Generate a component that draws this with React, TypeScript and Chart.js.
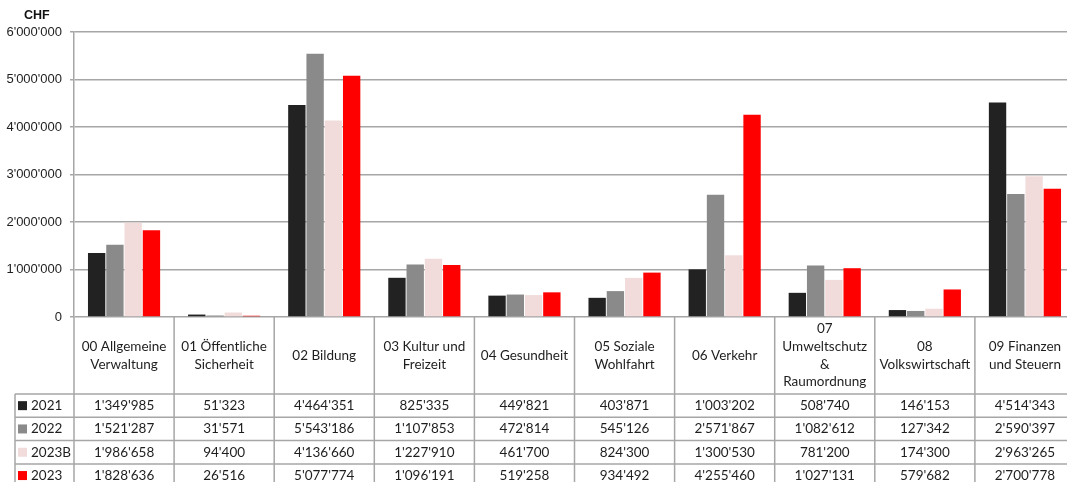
import React, { useEffect, useRef } from "react";
import { Chart, registerables } from "chart.js";

Chart.register(...registerables);

const categories: string[][] = [
  ["00 Allgemeine", "Verwaltung"],
  ["01 Öffentliche", "Sicherheit"],
  ["02 Bildung"],
  ["03 Kultur und", "Freizeit"],
  ["04 Gesundheit"],
  ["05 Soziale", "Wohlfahrt"],
  ["06 Verkehr"],
  ["07", "Umweltschutz", "&", "Raumordnung"],
  ["08", "Volkswirtschaft"],
  ["09 Finanzen", "und Steuern"],
];

const seriesNames = ["2021", "2022", "2023B", "2023"];
const v2021 = [1349985, 51323, 4464351, 825335, 449821, 403871, 1003202, 508740, 146153, 4514343];
const v2022 = [1521287, 31571, 5543186, 1107853, 472814, 545126, 2571867, 1082612, 127342, 2590397];
const v2023B = [1986658, 94400, 4136660, 1227910, 461700, 824300, 1300530, 781200, 174300, 2963265];
const v2023 = [1828636, 26516, 5077774, 1096191, 519258, 934492, 4255460, 1027131, 579682, 2700778];
const seriesColors = ["#222222", "#8a8a8a", "#f2dcdb", "#ff0000"];
const yTicks = [0, 1000000, 2000000, 3000000, 4000000, 5000000, 6000000];

const fmt = (v: number) => String(Math.round(v)).replace(/\B(?=(\d{3})+(?!\d))/g, "'");

const LINE = "#a6a6a6";
const TEXT = "#1e1e1e";
const TFONT = "13.5px Lato";

const tablePlugin = {
  id: "dataTable",
  afterDraw(chart: any) {
    const ctx: CanvasRenderingContext2D = chart.ctx;
    const xs = chart.scales.x;
    const area = chart.chartArea;
    const n = categories.length;
    const step = xs.getPixelForValue(1) - xs.getPixelForValue(0);
    const left = xs.getPixelForValue(0) - step / 2;
    const bounds: number[] = [];
    for (let i = 0; i <= n; i++) bounds.push(left + i * step);
    const right = bounds[n];
    const bottom = chart.height;
    const headerBottom = area.bottom + 77;
    const rowH = 23.3;
    const legendLeft = 15;
    const datasets = chart.data.datasets;

    ctx.save();
    // CHF label
    ctx.fillStyle = "#111";
    ctx.font = "bold 12.5px 'Liberation Sans'";
    ctx.textAlign = "left";
    ctx.textBaseline = "middle";
    ctx.fillText("CHF", 24, 16);

    ctx.strokeStyle = LINE;
    ctx.lineWidth = 1.5;
    // vertical lines
    for (let i = 0; i <= n; i++) {
      ctx.beginPath();
      ctx.moveTo(bounds[i], area.bottom);
      ctx.lineTo(bounds[i], bottom);
      ctx.stroke();
    }
    ctx.beginPath();
    ctx.moveTo(legendLeft, headerBottom);
    ctx.lineTo(legendLeft, bottom);
    ctx.stroke();
    // horizontal lines
    for (let r = 0; r <= datasets.length; r++) {
      const y = headerBottom + r * rowH;
      ctx.beginPath();
      ctx.moveTo(legendLeft, y);
      ctx.lineTo(right, y);
      ctx.stroke();
    }

    // header labels
    ctx.fillStyle = TEXT;
    ctx.font = TFONT;
    ctx.textAlign = "center";
    ctx.textBaseline = "middle";
    const lh = 17.6;
    const hc = (area.bottom + headerBottom) / 2;
    categories.forEach((lines, i) => {
      const cx = (bounds[i] + bounds[i + 1]) / 2;
      const y0 = hc - ((lines.length - 1) * lh) / 2;
      lines.forEach((t, k) => ctx.fillText(t, cx, y0 + k * lh));
    });

    // rows
    datasets.forEach((ds: any, r: number) => {
      const cy = headerBottom + r * rowH + rowH / 2;
      ctx.fillStyle = ds.backgroundColor;
      ctx.fillRect(18, cy - 4.5, 9, 9);
      ctx.fillStyle = TEXT;
      ctx.textAlign = "left";
      ctx.fillText(ds.label, 31, cy);
      ctx.textAlign = "center";
      ds.data.forEach((v: number, i: number) => {
        ctx.fillText(fmt(v), (bounds[i] + bounds[i + 1]) / 2, cy);
      });
    });
    ctx.restore();
  },
};

export default function App() {
  const ref = useRef<HTMLCanvasElement | null>(null);
  useEffect(() => {
    if (!ref.current) return;
    const values = [v2021, v2022, v2023B, v2023];
    const chart = new Chart(ref.current, {
      type: "bar",
      data: {
        labels: categories,
        datasets: seriesNames.map((name, i) => ({
          label: name,
          data: values[i],
          backgroundColor: seriesColors[i],
          borderWidth: 0,
          barPercentage: 0.95,
          categoryPercentage: 0.73,
        })),
      },
      options: {
        animation: false,
        responsive: false,
        devicePixelRatio: window.devicePixelRatio || 1,
        layout: { padding: { top: 32, bottom: 165, left: 0, right: 5 } },
        plugins: {
          legend: { display: false },
          tooltip: { enabled: false },
          title: { display: false },
        },
        scales: {
          x: { display: false },
          y: {
            min: 0,
            max: 6000000,
            afterBuildTicks: (s: any) => {
              s.ticks = yTicks.map((v) => ({ value: v }));
            },
            afterFit: (s: any) => {
              s.width = 74;
            },
            ticks: {
              callback: (v: any) => fmt(Number(v)),
              font: { family: "'Liberation Sans'", size: 13 },
              color: TEXT,
              padding: 8,
            },
            grid: { color: LINE, lineWidth: 1.5, tickLength: 4 },
            border: { color: LINE, width: 1.5 },
          },
        },
      },
      plugins: [tablePlugin],
    });
    return () => chart.destroy();
  }, []);
  return (
    <div
      style={{
        position: "fixed",
        left: 0,
        top: 0,
        width: 1067,
        height: 482,
        overflow: "hidden",
        background: "#fff",
      }}
    >
      <canvas ref={ref} width={1080} height={482} style={{ display: "block", width: 1080, height: 482 }} />
    </div>
  );
}
